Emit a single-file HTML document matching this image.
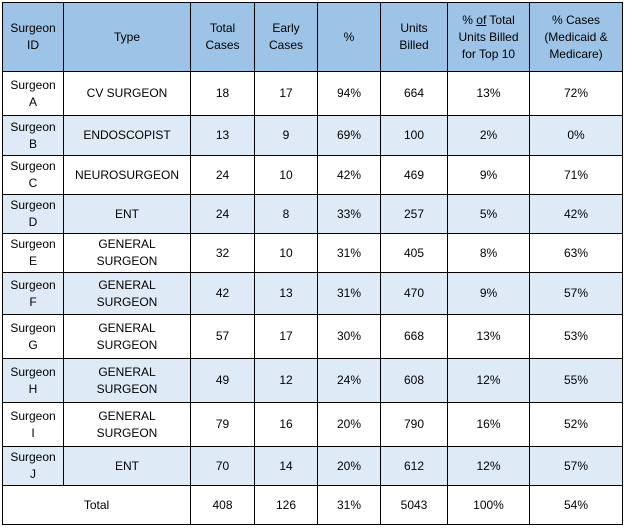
<!DOCTYPE html>
<html><head><style>
html,body{margin:0;padding:0;background:#fff;width:626px;height:529px;overflow:hidden}
table{position:absolute;left:2px;top:2px;border-collapse:collapse;table-layout:fixed;font-family:"Liberation Sans",sans-serif;font-size:12px;color:#000}
td{border:1px solid #000;text-align:center;vertical-align:middle;padding:0;line-height:17px}
tr.h td{background:#9dc3e6}
tr.a td{background:#deeaf6}
</style></head><body>
<table>
<colgroup><col style="width:61px"><col style="width:127px"><col style="width:64px"><col style="width:63px"><col style="width:63px"><col style="width:67px"><col style="width:82px"><col style="width:93px"></colgroup>
<tr class="h" style="height:69px"><td>Surgeon<br>ID</td><td>Type</td><td>Total<br>Cases</td><td>Early<br>Cases</td><td>%</td><td>Units<br>Billed</td><td>% <u>of</u> Total<br>Units Billed<br>for Top 10</td><td>% Cases<br>(Medicaid &amp;<br>Medicare)</td></tr>
<tr style="height:44px"><td>Surgeon<br>A</td><td>CV SURGEON</td><td>18</td><td>17</td><td>94%</td><td>664</td><td>13%</td><td>72%</td></tr>
<tr class="a" style="height:40px"><td>Surgeon<br>B</td><td>ENDOSCOPIST</td><td>13</td><td>9</td><td>69%</td><td>100</td><td>2%</td><td>0%</td></tr>
<tr style="height:39px"><td>Surgeon<br>C</td><td>NEUROSURGEON</td><td>24</td><td>10</td><td>42%</td><td>469</td><td>9%</td><td>71%</td></tr>
<tr class="a" style="height:39px"><td>Surgeon<br>D</td><td>ENT</td><td>24</td><td>8</td><td>33%</td><td>257</td><td>5%</td><td>42%</td></tr>
<tr style="height:39px"><td>Surgeon<br>E</td><td>GENERAL<br>SURGEON</td><td>32</td><td>10</td><td>31%</td><td>405</td><td>8%</td><td>63%</td></tr>
<tr class="a" style="height:42px"><td>Surgeon<br>F</td><td>GENERAL<br>SURGEON</td><td>42</td><td>13</td><td>31%</td><td>470</td><td>9%</td><td>57%</td></tr>
<tr style="height:44px"><td>Surgeon<br>G</td><td>GENERAL<br>SURGEON</td><td>57</td><td>17</td><td>30%</td><td>668</td><td>13%</td><td>53%</td></tr>
<tr class="a" style="height:44px"><td>Surgeon<br>H</td><td>GENERAL<br>SURGEON</td><td>49</td><td>12</td><td>24%</td><td>608</td><td>12%</td><td>55%</td></tr>
<tr style="height:44px"><td>Surgeon<br>I</td><td>GENERAL<br>SURGEON</td><td>79</td><td>16</td><td>20%</td><td>790</td><td>16%</td><td>52%</td></tr>
<tr class="a" style="height:39px"><td>Surgeon<br>J</td><td>ENT</td><td>70</td><td>14</td><td>20%</td><td>612</td><td>12%</td><td>57%</td></tr>
<tr style="height:39px"><td colspan="2">Total</td><td>408</td><td>126</td><td>31%</td><td>5043</td><td>100%</td><td>54%</td></tr>
</table>
</body></html>
